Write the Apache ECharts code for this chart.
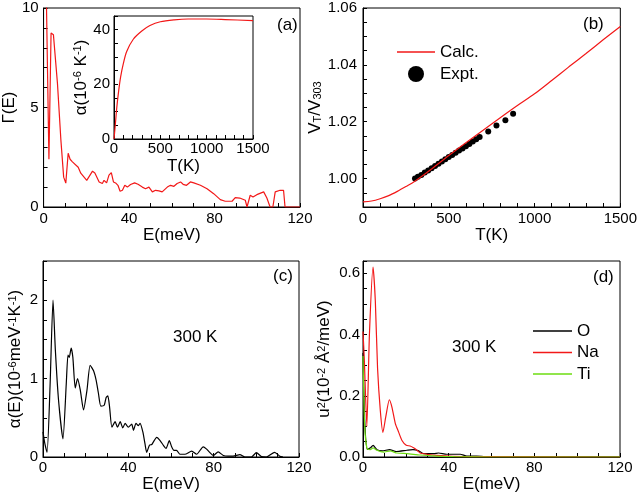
<!DOCTYPE html>
<html>
<head>
<meta charset="utf-8">
<script src="https://cdn.jsdelivr.net/npm/echarts@6/dist/echarts.min.js"></script>
<style>html,body{margin:0;padding:0;background:#fff;}#c{width:640px;height:498px;}</style>
</head>
<body>
<div id="c"></div>
<script>
// Panel (a): Gamma(E)
const gammaE = [1.0, 2.5, 3.5, 4.6, 6.5, 8.1, 9.4, 10.4, 11.5, 12.4, 13.5, 16.2, 17.4, 20.2, 22.9, 24.0, 26.0, 27.5, 28.3, 29.5, 30.6, 31.7, 32.7, 33.7, 34.8, 35.8, 36.9, 38.0, 39.2, 40.7, 42.6, 44.2, 46.2, 47.7, 49.3, 50.9, 52.4, 54.0, 55.5, 56.3, 57.9, 59.4, 61.0, 62.5, 64.1, 65.3, 66.9, 68.7, 70.3, 73.4, 76.5, 79.6, 82.7, 85.0, 88.2, 89.7, 91.8, 94.4, 95.2, 96.0, 96.7, 98.0, 99.8, 103.0, 104.5, 106.0, 107.3, 108.4, 110.7, 112.3, 113.0, 120];
const gammaV = [12.5, 2.4, 8.74, 8.66, 6.2, 3.36, 1.5, 1.2, 2.7, 2.4, 2.27, 2.0, 1.7, 1.34, 1.8, 1.71, 1.26, 1.18, 1.34, 1.21, 1.6, 1.73, 1.26, 1.21, 1.09, 0.79, 0.84, 1.09, 1.0, 1.13, 1.21, 1.14, 1.0, 0.92, 1.0, 0.76, 0.84, 0.81, 0.76, 0.71, 1.0, 1.09, 1.04, 1.18, 1.26, 1.14, 1.09, 1.26, 1.21, 1.09, 0.92, 0.67, 0.37, 0.29, 0.29, 0.47, 0.45, 0.34, 0, 0, 0.59, 0.5, 0.62, 0.76, 0.45, 0, 0, 0.76, 0.84, 0.84, 0, 0];
// Inset: alpha(T)
const alphaT = [0, 15, 30, 50, 72, 100, 137, 208, 300, 388, 500, 650, 800, 1000, 1200, 1500];
const alphaV = [0, 5.5, 11.5, 17.5, 22.8, 27.5, 32.0, 36.5, 39.5, 41.5, 42.9, 43.6, 43.9, 43.9, 43.7, 43.3];
// Panel (b): V_T/V_303
const calcT = [0, 50, 100, 150, 200, 250, 300, 400, 500, 600, 700, 800, 900, 1000, 1100, 1200, 1300, 1400, 1500];
const calcV = [0.9918, 0.9921, 0.9929, 0.9940, 0.9955, 0.9972, 0.9990, 1.0034, 1.0081, 1.0126, 1.0170, 1.0214, 1.0257, 1.0298, 1.0345, 1.0393, 1.0440, 1.0488, 1.0535];
const exptT = [303, 320, 340, 360, 380, 400, 420, 440, 460, 480, 500, 520, 540, 560, 580, 600, 620, 640, 660, 680, 730, 778, 830, 875];
const exptV = [1.0000, 1.0006, 1.0013, 1.0021, 1.0028, 1.0036, 1.0044, 1.0052, 1.0060, 1.0068, 1.0076, 1.0083, 1.0091, 1.0099, 1.0106, 1.0114, 1.0122, 1.0130, 1.0138, 1.0146, 1.0166, 1.0187, 1.0205, 1.0228];
// Panel (c): alpha(E)
const cE = [0, 0.8, 1.9, 3.3, 4.7, 5.8, 7.3, 9.35, 10.9, 11.7, 12.3, 13.2, 14.0, 15.1, 16.2, 17.5, 19.0, 20.6, 22.1, 23.7, 24.9, 26.0, 27.1, 28.7, 29.6, 30.4, 31.2, 32.3, 33.8, 34.9, 36.2, 37.4, 38.5, 40.0, 41.6, 42.4, 43.6, 44.7, 45.5, 46.8, 47.8, 48.6, 49.9, 51.0, 51.7, 53.3, 54.9, 56.4, 57.7, 59.2, 60.3, 61.4, 62.6, 64.2, 66.5, 69.7, 72.0, 75.1, 76.7, 77.9, 79.8, 82.1, 84.5, 86.8, 89.1, 92.3, 94.6, 97.7, 100.0, 102.4, 104.7, 108.6, 111.0, 112.5];
const cV = [0.32, 0.18, 0.06, 0.9, 2.0, 1.36, 0.72, 0.23, 0.93, 1.3, 1.27, 1.39, 1.27, 0.88, 1.0, 0.85, 0.6, 0.85, 1.17, 1.1, 0.98, 0.81, 0.65, 0.66, 0.76, 0.78, 0.64, 0.38, 0.45, 0.38, 0.45, 0.37, 0.43, 0.38, 0.42, 0.34, 0.43, 0.4, 0.43, 0.32, 0.17, 0.06, 0.15, 0.16, 0.19, 0.25, 0.21, 0.15, 0.11, 0.21, 0.13, 0.085, 0.085, 0.035, 0.035, 0.075, 0.035, 0.13, 0.1, 0.065, 0.02, 0.065, 0.02, 0.01, 0.01, 0.03, 0, 0, 0.055, 0.005, 0, 0.06, 0.01, 0];
// Panel (d): u^2(E)
const oE = [0, 0.8, 2.0, 3.5, 4.7, 6.5, 9.0, 12.4, 15.5, 20.5, 23.3, 26.0, 28.3, 33.0, 35.3, 39.0, 45.4, 48.5, 53.0, 57, 65, 120];
const oV = [0.34, 0.12, 0.025, 0.03, 0.038, 0.024, 0.02, 0.024, 0.018, 0.022, 0.024, 0.02, 0.011, 0.011, 0.013, 0.009, 0.009, 0.003, 0.003, 0.001, 0, 0];
const naE = [0, 0.6, 1.8, 3.0, 4.7, 5.75, 6.8, 8.1, 9.3, 10.6, 12.3, 13.5, 15.1, 16.6, 18.2, 20.2, 22.0, 23.6, 25.2, 26.7, 29.8, 34.5, 42, 55, 120];
const naV = [0.41, 0.32, 0.10, 0.40, 0.62, 0.51, 0.29, 0.15, 0.08, 0.13, 0.187, 0.163, 0.109, 0.082, 0.054, 0.038, 0.036, 0.03, 0.022, 0.013, 0.009, 0.005, 0.002, 0.001, 0];
const tiE = [0, 0.8, 1.9, 3.4, 4.7, 6.5, 9.6, 12.7, 15.8, 20.5, 26.7, 34.5, 42.3, 60, 120];
const tiV = [0.33, 0.1, 0.027, 0.024, 0.03, 0.022, 0.016, 0.02, 0.013, 0.011, 0.0065, 0.003, 0.001, 0, 0];

const zip = (a, b) => a.map((x, i) => [x, b[i]]);
const FONT = 'Liberation Sans, Arial, Helvetica, sans-serif';
const RED = '#f21818', GREEN = '#6cdc10';
const LINE_ICON = 'path://M0,0H30V1H0Z';

function axis(gi, min, max, step, major, dec, name, gap, margin, extra) {
  return Object.assign({
    type: 'value', gridIndex: gi, min: min, max: max, interval: step,
    name: name, nameLocation: 'middle', nameGap: gap,
    nameTextStyle: { fontFamily: FONT, fontSize: 17, color: '#000',
      rich: {
        sup: { fontFamily: FONT, fontSize: 11, color: '#000', verticalAlign: 'top', lineHeight: 12 },
        sub: { fontFamily: FONT, fontSize: 11, color: '#000', verticalAlign: 'bottom', lineHeight: 12 }
      } },
    axisLine: { show: true, onZero: false, lineStyle: { color: '#000', width: 1 } },
    axisTick: { show: true, inside: true, length: 4, lineStyle: { color: '#000', width: 1 } },
    axisLabel: { fontFamily: FONT, fontSize: 15, color: '#000', margin: margin, showMaxLabel: true,
      formatter: v => (Math.abs(v / major - Math.round(v / major)) < 1e-6) ? v.toFixed(dec) : '' },
    splitLine: { show: false }
  }, extra || {});
}

const gridStyle = { show: true, borderColor: '#000', borderWidth: 1, backgroundColor: '#fff' };

const option = {
  animation: false,
  backgroundColor: '#fff',
  textStyle: { fontFamily: FONT },
  grid: [
    Object.assign({ left: 43, top: 8, width: 257, height: 199 }, gridStyle),
    Object.assign({ left: 363, top: 8, width: 258, height: 199 }, gridStyle),
    Object.assign({ left: 43, top: 261, width: 256, height: 196 }, gridStyle),
    Object.assign({ left: 363, top: 261, width: 257, height: 196 }, gridStyle),
    Object.assign({ left: 114, top: 16, width: 139, height: 123, z: 5 }, gridStyle)
  ],
  xAxis: [
    axis(0, 0, 120, 10, 40, 0, 'E(meV)', 19, 4),
    axis(1, 0, 1500, 100, 500, 0, 'T(K)', 19, 4),
    axis(2, 0, 120, 10, 40, 0, 'E(meV)', 16, 3),
    axis(3, 0, 120, 10, 40, 0, 'E(meV)', 16, 3),
    axis(4, 0, 1500, 100, 500, 0, 'T(K)', 19, 2, { z: 6 })
  ],
  yAxis: [
    axis(0, 0, 10, 1, 5, 0, 'Γ(E)', 18, 5),
    axis(1, 0.99, 1.06, 0.005, 0.02, 2, 'V{sub|T}/V{sub|303}', 34, 6),
    axis(2, 0, 2.5, 0.25, 1, 0, 'α(E)(10{sup|-6}meV{sup|-1}K{sup|-1})', 19, 5),
    axis(3, 0, 0.64, 0.05, 0.2, 1, 'u{sup|2}(10{sup|-2} Å{sup|2}/meV)', 30, 3),
    axis(4, 0, 45, 5, 20, 0, 'α(10{sup|-6} K{sup|-1})', 21, 4, { z: 6 })
  ],
  legend: [
    { data: [{ name: 'Calc.', icon: LINE_ICON }, { name: 'Expt.', icon: 'circle' }],
      orient: 'vertical', left: 397, top: 43.5, padding: 0,
      itemWidth: 38, itemHeight: 16, itemGap: 5,
      textStyle: { fontFamily: FONT, fontSize: 17, color: '#000', lineHeight: 17 } },
    { data: [{ name: 'O', icon: LINE_ICON }, { name: 'Na', icon: LINE_ICON }, { name: 'Ti', icon: LINE_ICON }],
      orient: 'vertical', left: 533, top: 322.5, padding: 0,
      itemWidth: 39, itemHeight: 12, itemGap: 4.5,
      textStyle: { fontFamily: FONT, fontSize: 17, color: '#000', lineHeight: 17 } }
  ],
  series: [
    { name: 'Γ', type: 'line', xAxisIndex: 0, yAxisIndex: 0, data: zip(gammaE, gammaV),
      symbol: 'none', lineStyle: { color: RED, width: 1.2 }, clip: true },
    { name: 'alpha', type: 'line', xAxisIndex: 4, yAxisIndex: 4, data: zip(alphaT, alphaV), z: 7,
      symbol: 'none', smooth: 0.3, lineStyle: { color: RED, width: 1.2 } },
    { name: 'Calc.', type: 'line', xAxisIndex: 1, yAxisIndex: 1, data: zip(calcT, calcV),
      symbol: 'none', smooth: 0.3, color: RED, lineStyle: { color: RED, width: 1.2 } },
    { name: 'Expt.', type: 'scatter', xAxisIndex: 1, yAxisIndex: 1, data: zip(exptT, exptV),
      symbol: 'circle', symbolSize: 6, color: '#000', itemStyle: { color: '#000', opacity: 1 } },
    { name: 'αE', type: 'line', xAxisIndex: 2, yAxisIndex: 2, data: zip(cE, cV),
      symbol: 'none', smooth: 0.2, lineStyle: { color: '#000', width: 1.2 } },
    { name: 'O', type: 'line', xAxisIndex: 3, yAxisIndex: 3, data: zip(oE, oV),
      symbol: 'none', smooth: 0.2, color: '#000', lineStyle: { color: '#000', width: 1.2 } },
    { name: 'Na', type: 'line', xAxisIndex: 3, yAxisIndex: 3, data: zip(naE, naV),
      symbol: 'none', smooth: 0.2, color: RED, lineStyle: { color: RED, width: 1.2 } },
    { name: 'Ti', type: 'line', xAxisIndex: 3, yAxisIndex: 3, data: zip(tiE, tiV),
      symbol: 'none', smooth: 0.2, color: GREEN, lineStyle: { color: GREEN, width: 1.2 } }
  ],
  graphic: [
    ['(a)', 277, 25], ['(b)', 583, 24.5], ['(c)', 273, 276.5], ['(d)', 593, 277],
    ['300 K', 173, 337], ['300 K', 452, 347]
  ].map(t => ({ type: 'text', x: t[1], y: t[2], z: 100,
    style: { text: t[0], fill: '#000', font: '17px ' + FONT, align: 'left', verticalAlign: 'middle' } }))
};

const chart = echarts.init(document.getElementById('c'), null, { renderer: 'canvas' });
chart.setOption(option);
</script>
</body>
</html>
